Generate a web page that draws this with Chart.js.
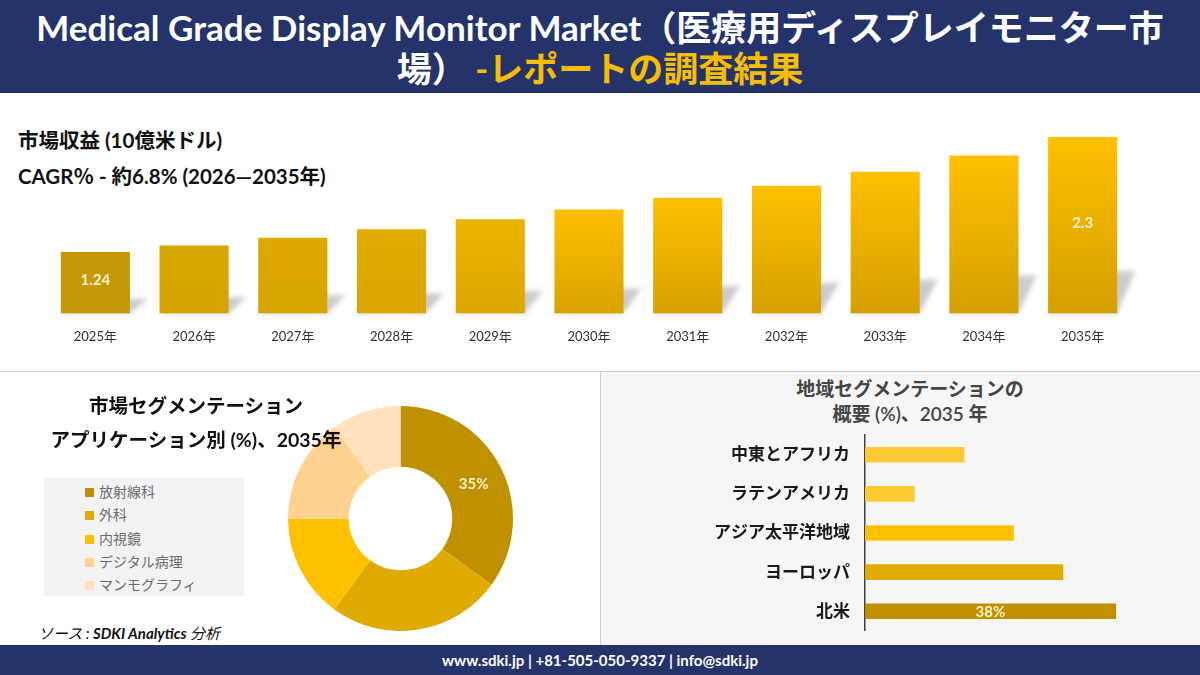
<!DOCTYPE html>
<html lang="ja">
<head>
<meta charset="utf-8">
<script src="https://cdn.jsdelivr.net/npm/chart.js@4.4.1/dist/chart.umd.min.js"></script>
<style>
  body { margin: 0; }
  #page { position: relative; width: 1200px; height: 675px; overflow: hidden; background: #fff;
          font-family: Lato, "Noto Sans CJK JP", sans-serif; }
  .abs { position: absolute; }
  .banner { left: 0; top: 0; width: 1200px; height: 93px; background: #25336b; }
  .title { left: 0; top: 7px; width: 1200px; text-align: center; color: #fff; font-weight: 700;
           font-size: 35px; line-height: 41px; white-space: nowrap; }
  .title .gold { color: #f7be00; }
  .sub { left: 18px; font-weight: 700; font-size: 20.5px; line-height: 24px; color: #111; white-space: nowrap; }
  .hline { left: 0; top: 371px; width: 1200px; height: 1px; background: #cfcfcf; }
  .rpanel { left: 600px; top: 372px; width: 600px; height: 273px; background: #f6f6f6; border-left: 1px solid #cfcfcf; }
  .ltitle { left: 0; width: 392px; text-align: center; font-weight: 700; font-size: 19.5px; line-height: 24px; color: #111;
            white-space: nowrap; z-index: 2; }
  .rtitle { left: 700px; width: 420px; text-align: center; font-weight: 600; font-size: 19px; line-height: 25px; color: #444; white-space: nowrap; }
  #legend { left: 44px; top: 478px; width: 200px; height: 118px; background: #f3f3f3; }
  .item { position: absolute; left: 41px; height: 23px; line-height: 23px; font-size: 14px; color: #6b6b6b; white-space: nowrap; }
  .item i { display: inline-block; width: 9px; height: 9px; margin-right: 5px; vertical-align: 0px; }
  .source { left: 38px; top: 622px; font-size: 15px; font-style: italic; color: #111; white-space: nowrap; }
  .footer { left: 0; top: 645px; width: 1200px; height: 30px; background: #25336b; color: #fff; text-align: center;
            font-weight: 700; font-size: 15px; line-height: 31px; }
  canvas { position: absolute; z-index: 1; }
</style>
</head>
<body>
<div id="page">
  <div class="abs banner"></div>
  <div class="abs title">Medical Grade Display Monitor Market（医療用ディスプレイモニター市<br>場） <span class="gold">-レポートの調査結果</span></div>

  <div class="abs sub" style="top:128px">市場収益 (10億米ドル)</div>
  <div class="abs sub" style="top:164px">CAGR％ - 約6.8% (2026—2035年)</div>
  <canvas id="revenue" width="1200" height="231" style="left:0;top:130px"></canvas>

  <div class="abs hline"></div>
  <div class="abs rpanel"></div>

  <div class="abs ltitle" style="top:394px">市場セグメンテーション</div>
  <div class="abs ltitle" style="top:428px">アプリケーション別 (%)、2035年</div>
  <div class="abs" id="legend"></div>
  <canvas id="apps" width="225" height="225" style="left:288px;top:406px"></canvas>
  <div class="abs source">ソース : <b>SDKI Analytics</b> 分析</div>

  <div class="abs rtitle" style="top:376px">地域セグメンテーションの</div>
  <div class="abs rtitle" style="top:401px">概要 (%)、2035 年</div>
  <canvas id="regions" width="580" height="246" style="left:610px;top:410px"></canvas>

  <div class="abs footer">www.sdki.jp | +81-505-050-9337 | info@sdki.jp</div>
</div>

<script>
// market revenue, USD bn
const years = ['2025年', '2026年', '2027年', '2028年', '2029年', '2030年', '2031年', '2032年', '2033年', '2034年', '2035年'];
const revenue = [1.24, 1.30, 1.37, 1.45, 1.54, 1.63, 1.74, 1.85, 1.98, 2.13, 2.30];
const revenueLabelled = [0, 10];
const revenueFloor = 0.673;

// application share 2035 (%)
const apps = ['放射線科', '外科', '内視鏡', 'デジタル病理', 'マンモグラフィ'];
const appShare = [35, 25, 15, 15, 10];
const appLabelled = [0];

// regional share 2035 (%)
const regions = ['中東とアフリカ', 'ラテンアメリカ', 'アジア太平洋地域', 'ヨーロッパ', '北米'];
const regionShare = [15, 7.5, 22.5, 30, 38];
const regionLabelled = [4];

// colours
const barTop = ['#c49808', '#d9a600', '#dda900', '#e2ac00', '#edb300', '#ffc000', '#ffc000', '#ffc000', '#ffc000', '#ffc000', '#ffc000'];
const barBottom = ['#c49808', '#d5a300', '#d8a500', '#daa600', '#dba700', '#d9a400', '#d6a200', '#d5a100', '#d4a000', '#d4a000', '#d4a000'];
const appColors = ['#bf9000', '#dfab00', '#ffc000', '#ffd38f', '#ffe2bd'];
const regionColors = ['#ffc933', '#ffcb33', '#ffc000', '#e0ac00', '#bf9000'];

const FONT = 'Lato, "Noto Sans CJK JP", sans-serif';
Chart.defaults.font.family = FONT;
Chart.defaults.animation = false;
Chart.defaults.plugins.legend.display = false;
Chart.defaults.plugins.tooltip.enabled = false;

// text on chosen marks, at the element centre
const valueLabels = {
  id: 'valueLabels',
  afterDatasetsDraw(chart, args, opts) {
    const meta = chart.getDatasetMeta(0);
    const data = chart.data.datasets[0].data;
    const ctx = chart.ctx;
    ctx.save();
    ctx.fillStyle = opts.color;
    ctx.font = opts.font;
    ctx.textAlign = 'center';
    ctx.textBaseline = 'middle';
    opts.indices.forEach(i => {
      const p = meta.data[i].getCenterPoint();
      ctx.fillText(opts.format(data[i]), p.x, p.y + (opts.dy || 0));
    });
    ctx.restore();
  }
};

// soft floor shadow behind each column
const barShadow = {
  id: 'barShadow',
  beforeDatasetsDraw(chart) {
    const ctx = chart.ctx;
    ctx.save();
    ctx.filter = 'blur(2.5px)';
    ctx.fillStyle = 'rgba(0,0,0,0.2)';
    chart.getDatasetMeta(0).data.forEach(el => {
      const l = el.x - el.width / 2, r = el.x + el.width / 2;
      const dy = (el.base - el.y) * 0.24, dx = 18;
      ctx.beginPath();
      ctx.moveTo(l, el.base);
      ctx.lineTo(r, el.base);
      ctx.lineTo(r + dx, el.base - dy);
      ctx.lineTo(l + dx, el.base - dy);
      ctx.closePath();
      ctx.fill();
    });
    ctx.restore();
  }
};

new Chart(document.getElementById('revenue'), {
  type: 'bar',
  data: {
    labels: years,
    datasets: [{
      data: revenue,
      base: revenueFloor,
      categoryPercentage: 0.8,
      barPercentage: 0.875,
      backgroundColor: (c) => {
        const chart = c.chart, i = c.dataIndex;
        if (!chart.chartArea || c.raw === undefined) return barTop[i];
        const y = chart.scales.y;
        const g = chart.ctx.createLinearGradient(0, y.getPixelForValue(c.raw), 0, y.getPixelForValue(y.min));
        g.addColorStop(0, barTop[i]);
        g.addColorStop(1, barBottom[i]);
        return g;
      }
    }]
  },
  options: {
    responsive: false,
    layout: { padding: { left: 46, right: 68, top: 0, bottom: 0 } },
    scales: {
      x: {
        grid: { display: false, drawTicks: false },
        border: { display: false },
        ticks: { padding: 16, color: '#333', font: { size: 13 } }
      },
      y: { display: false, min: revenueFloor, max: 2.364 }
    },
    plugins: {
      valueLabels: { indices: revenueLabelled, color: '#fff4cc', font: '700 15px ' + FONT, format: v => String(v), dy: -2 }
    }
  },
  plugins: [barShadow, valueLabels]
});

new Chart(document.getElementById('apps'), {
  type: 'doughnut',
  data: {
    labels: apps,
    datasets: [{ data: appShare, backgroundColor: appColors, borderWidth: 0 }]
  },
  options: {
    responsive: false,
    cutout: '46%',
    plugins: {
      valueLabels: { indices: appLabelled, color: '#fff4cc', font: '700 15px ' + FONT, format: v => v + '%', dy: 3 }
    }
  },
  plugins: [valueLabels]
});

new Chart(document.getElementById('regions'), {
  type: 'bar',
  data: {
    labels: regions,
    datasets: [{ data: regionShare, backgroundColor: regionColors, barThickness: 15 }]
  },
  options: {
    responsive: false,
    indexAxis: 'y',
    layout: { padding: { left: 0, right: 28, top: 0, bottom: 0 } },
    scales: {
      x: { display: false, min: 0, max: 45 },
      y: {
        grid: { display: false, drawTicks: false },
        border: { display: true, color: '#404040', width: 1.5 },
        ticks: { padding: 15, color: '#1a1a1a', font: { size: 17, weight: 'bold' } },
        afterFit: (s) => { s.width = 255; }
      }
    },
    plugins: {
      valueLabels: { indices: regionLabelled, color: '#fff4cc', font: '700 15px ' + FONT, format: v => v + '%', dy: 1 }
    }
  },
  plugins: [valueLabels]
});

// html legend for the doughnut
const legend = document.getElementById('legend');
apps.forEach((name, i) => {
  const d = document.createElement('div');
  d.className = 'item';
  d.style.top = (2 + i * 23.3) + 'px';
  d.innerHTML = '<i style="background:' + appColors[i] + '"></i>' + name;
  legend.appendChild(d);
});
</script>
</body>
</html>
